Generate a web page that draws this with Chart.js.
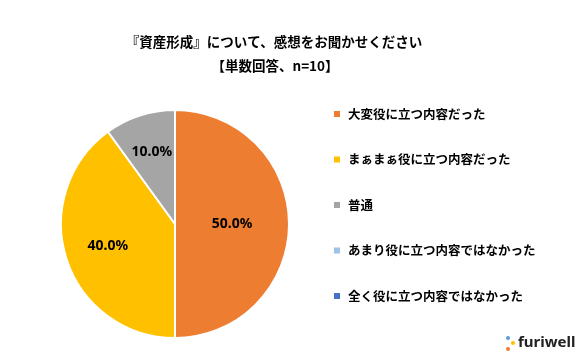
<!DOCTYPE html>
<html>
<head>
<meta charset="utf-8">
<script src="https://cdn.jsdelivr.net/npm/chart.js@4/dist/chart.umd.min.js"></script>
<style>
  html, body { margin: 0; padding: 0; background: #fff; }
  #wrap { width: 580px; height: 364px; }
</style>
</head>
<body>
<div id="wrap"><canvas id="pie"></canvas></div>
<script>
const titleLines = ['『資産形成』について、感想をお聞かせください', '【単数回答、n=10】'];
const categories = ['大変役に立つ内容だった', 'まぁまぁ役に立つ内容だった', '普通', 'あまり役に立つ内容ではなかった', '全く役に立つ内容ではなかった'];
const values = [50.0, 40.0, 10.0, 0, 0];
const colors = ['#ED7D31', '#FFC000', '#A5A5A5', '#9DC3E6', '#4472C4'];

const jpFont = "'Noto Sans CJK JP', 'Noto Sans', sans-serif";

// title, legend, slice labels and logo are drawn by hand
const decorPlugin = {
    id: 'decor',
    afterDraw(chart) {
        const ctx = chart.ctx;
        ctx.save();

        // title
        ctx.fillStyle = '#000';
        ctx.textAlign = 'center';
        ctx.textBaseline = 'middle';
        ctx.font = 'bold 13.5px ' + jpFont;
        ctx.fillText(titleLines[0], 274, 42);
        ctx.fillText(titleLines[1], 275, 66);

        // labels on slices
        const meta = chart.getDatasetMeta(0);
        const radFactor = [0.5, 0.62, 0.66];
        ctx.font = "bold 14px 'Noto Sans', sans-serif";
        meta.data.forEach((arc, i) => {
            if (!values[i]) return;
            const mid = (arc.startAngle + arc.endAngle) / 2;
            const r = arc.outerRadius * (radFactor[i] || 0.6);
            ctx.fillText(values[i].toFixed(1) + '%', arc.x + Math.cos(mid) * r, arc.y + Math.sin(mid) * r);
        });

        // legend
        ctx.textAlign = 'left';
        ctx.font = 'bold 12.5px ' + jpFont;
        categories.forEach((c, i) => {
            const y = 114 + i * 45.5;
            ctx.fillStyle = colors[i];
            ctx.fillRect(334, y - 3, 6, 6);
            ctx.fillStyle = '#000';
            ctx.fillText(c, 348, y);
        });

        // logo
        ctx.fillStyle = '#5B9BD5';
        ctx.beginPath(); ctx.arc(508, 338, 2, 0, Math.PI * 2); ctx.fill();
        ctx.fillStyle = '#FFC000';
        ctx.beginPath(); ctx.arc(513, 343, 2, 0, Math.PI * 2); ctx.fill();
        ctx.fillStyle = '#ED7D31';
        ctx.beginPath(); ctx.arc(508, 349, 2, 0, Math.PI * 2); ctx.fill();
        ctx.fillStyle = '#222';
        ctx.font = "bold 15px 'Noto Sans', sans-serif";
        ctx.fillText('furiwell', 518, 343);

        ctx.restore();
    }
};

new Chart(document.getElementById('pie'), {
    type: 'pie',
    data: {
        labels: categories,
        datasets: [{
            data: values,
            backgroundColor: colors,
            borderColor: '#fff',
            borderWidth: 2
        }]
    },
    options: {
        responsive: true,
        maintainAspectRatio: false,
        animation: false,
        layout: {
            padding: { left: 60, right: 290, top: 109, bottom: 25 }
        },
        plugins: {
            legend: { display: false },
            title: { display: false },
            tooltip: { enabled: false }
        }
    },
    plugins: [decorPlugin]
});
</script>
</body>
</html>
